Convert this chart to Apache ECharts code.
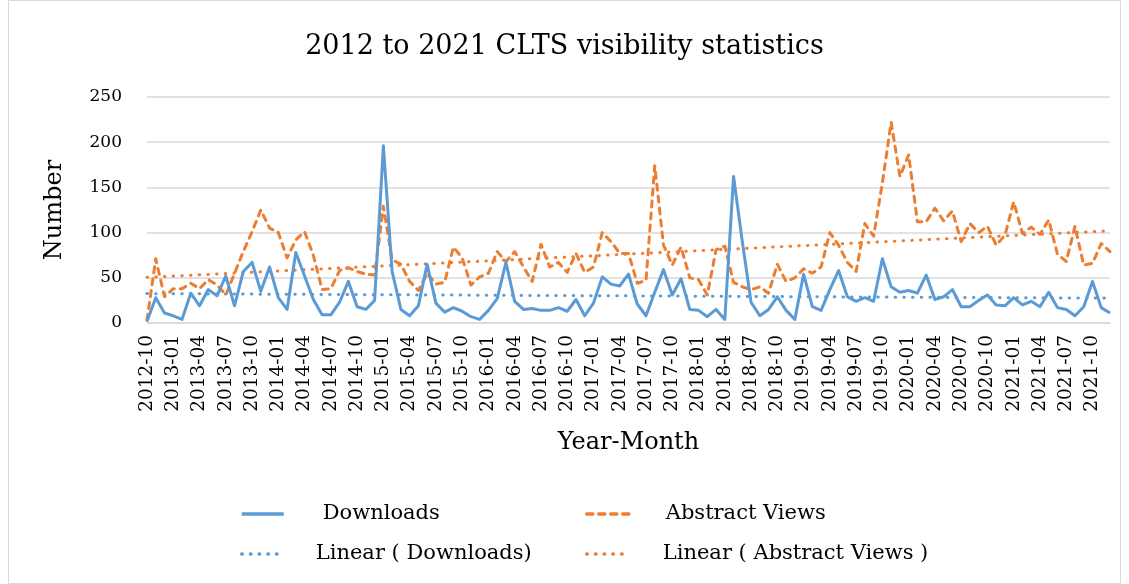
<!DOCTYPE html>
<html><head><meta charset="utf-8">
<script src="https://cdn.jsdelivr.net/npm/echarts@6/dist/echarts.min.js"></script>
<style>html,body{margin:0;padding:0;background:#fff}#c{width:1129px;height:584px}</style>
</head><body><div id="c"></div>
<script>
const categories = [
"2012-10","2012-11","2012-12",
"2013-01","2013-02","2013-03","2013-04","2013-05","2013-06","2013-07","2013-08","2013-09","2013-10","2013-11","2013-12",
"2014-01","2014-02","2014-03","2014-04","2014-05","2014-06","2014-07","2014-08","2014-09","2014-10","2014-11","2014-12",
"2015-01","2015-02","2015-03","2015-04","2015-05","2015-06","2015-07","2015-08","2015-09","2015-10","2015-11","2015-12",
"2016-01","2016-02","2016-03","2016-04","2016-05","2016-06","2016-07","2016-08","2016-09","2016-10","2016-11","2016-12",
"2017-01","2017-02","2017-03","2017-04","2017-05","2017-06","2017-07","2017-08","2017-09","2017-10","2017-11","2017-12",
"2018-01","2018-02","2018-03","2018-04","2018-05","2018-06","2018-07","2018-08","2018-09","2018-10","2018-11","2018-12",
"2019-01","2019-02","2019-03","2019-04","2019-05","2019-06","2019-07","2019-08","2019-09","2019-10","2019-11","2019-12",
"2020-01","2020-02","2020-03","2020-04","2020-05","2020-06","2020-07","2020-08","2020-09","2020-10","2020-11","2020-12",
"2021-01","2021-02","2021-03","2021-04","2021-05","2021-06","2021-07","2021-08","2021-09","2021-10","2021-11","2021-12"
];
const downloads = [
2, 28, 11, 8, 4, 33, 19, 37, 30, 52, 19, 57, 67, 35, 62, 28, 15, 78, 52, 26, 9, 9,
23, 46, 18, 15, 25, 196, 57, 15, 8, 19, 65, 22, 12, 17, 13, 7, 4, 14, 27, 67, 24,
15, 16, 14, 14, 17, 13, 26, 8, 22, 51, 43, 41, 54, 21, 8, 34, 59, 31, 49, 15, 14,
7, 15, 4, 162, 90, 23, 8, 15, 29, 14, 4, 54, 18, 14, 37, 58, 29, 24, 28, 24, 71, 40,
34, 36, 33, 53, 26, 29, 37, 18, 18, 25, 31, 20, 19, 28, 20, 24, 18, 34, 17, 15, 8, 18, 46, 17, 11
];
const abstractViews = [
3, 71, 29, 38, 38, 44, 38, 48, 42, 31, 55, 79, 101, 125, 105, 100, 72, 92, 101, 75, 37, 38,
58, 61, 57, 54, 53, 129, 70, 65, 46, 36, 55, 43, 45, 84, 72, 42, 51, 55, 79, 68, 79,
62, 46, 87, 62, 67, 56, 77, 56, 62, 100, 90, 77, 77, 44, 47, 174, 86, 64, 84, 50, 48,
31, 81, 85, 45, 40, 37, 40, 33, 65, 46, 50, 60, 55, 62, 100, 86, 67, 57, 110, 96, 155, 222,
162, 186, 112, 112, 127, 113, 124, 90, 110, 100, 107, 86, 97, 134, 99, 106, 98, 114, 76, 68, 107, 64, 66, 88, 79
];
// linear trend line end values (start, end)
const trendDownloads = [32.5, 27.5];
const trendViews = [50.5, 102];
const yMin = 0, yMax = 250, yStep = 50;

const SERIF = 'DejaVu Serif';
const BLUE = '#5B9BD5', ORANGE = '#ED7D31';
const last = categories.length - 1;

const chart = echarts.init(document.getElementById('c'), null, {renderer: 'canvas'});
function legendAt(name, left, top, pad) {
  return {
    data: [name], left: left, top: top, padding: 0,
    itemWidth: 42, itemHeight: 14,
    itemStyle: {opacity: 0},
    lineStyle: {width: 3.5},
    textStyle: {fontFamily: SERIF, fontSize: 21, color: '#000', lineHeight: 24, padding: [0, 0, 0, pad]}
  };
}
chart.setOption({
  backgroundColor: '#fff',
  animation: false,
  title: {
    text: '2012 to 2021 CLTS visibility statistics',
    left: 'center', top: 28,
    textStyle: {fontFamily: SERIF, fontSize: 27, fontWeight: 'normal', color: '#000'}
  },
  graphic: [{
    type: 'rect', shape: {x: 8.5, y: 0.5, width: 1112, height: 583},
    style: {fill: 'none', stroke: '#d9d9d9', lineWidth: 1}, silent: true, z: -1
  }],
  grid: {left: 147, right: 19, top: 97, bottom: 261, containLabel: false},
  legend: [
    legendAt('Downloads', 240, 502, 34),
    legendAt('Abstract Views', 585, 502, 32),
    legendAt('Linear ( Downloads)', 240, 542, 27),
    legendAt('Linear ( Abstract Views )', 585, 542, 29)
  ],
  xAxis: {
    type: 'category', data: categories, boundaryGap: false,
    name: 'Year-Month', nameLocation: 'middle', nameGap: 108,
    nameTextStyle: {fontFamily: SERIF, fontSize: 24, color: '#000'},
    axisLine: {lineStyle: {color: '#d9d9d9', width: 1.5}},
    axisTick: {show: false},
    axisLabel: {interval: 2, rotate: 90, fontFamily: SERIF, fontSize: 18.5, color: '#000', margin: 12},
    splitLine: {show: false}
  },
  yAxis: {
    type: 'value', min: yMin, max: yMax, interval: yStep,
    name: 'Number', nameLocation: 'middle', nameGap: 80, nameRotate: 90,
    nameTextStyle: {fontFamily: SERIF, fontSize: 24, color: '#000'},
    axisLine: {show: false}, axisTick: {show: false},
    axisLabel: {fontFamily: SERIF, fontSize: 17, color: '#000', margin: 25},
    splitLine: {lineStyle: {color: '#d9d9d9', width: 1.5}}
  },
  series: [
    {name: 'Downloads', type: 'line', data: downloads, symbol: 'none', showSymbol: false,
     lineStyle: {color: BLUE, width: 3, join: 'round'}, itemStyle: {color: BLUE}, z: 3},
    {name: 'Abstract Views', type: 'line', data: abstractViews, symbol: 'none', showSymbol: false,
     lineStyle: {color: ORANGE, width: 3, type: [6, 6], cap: 'round', join: 'round'}, itemStyle: {color: ORANGE}, z: 2},
    {name: 'Linear ( Downloads)', type: 'line', symbol: 'none', showSymbol: false,
     data: [[categories[0], trendDownloads[0]], [categories[last], trendDownloads[1]]],
     lineStyle: {color: BLUE, width: 3, type: [0.5, 8.2], cap: 'round'}, itemStyle: {color: BLUE}, z: 1},
    {name: 'Linear ( Abstract Views )', type: 'line', symbol: 'none', showSymbol: false,
     data: [[categories[0], trendViews[0]], [categories[last], trendViews[1]]],
     lineStyle: {color: ORANGE, width: 3, type: [0.5, 8.2], cap: 'round'}, itemStyle: {color: ORANGE}, z: 1}
  ]
});
</script></body></html>
